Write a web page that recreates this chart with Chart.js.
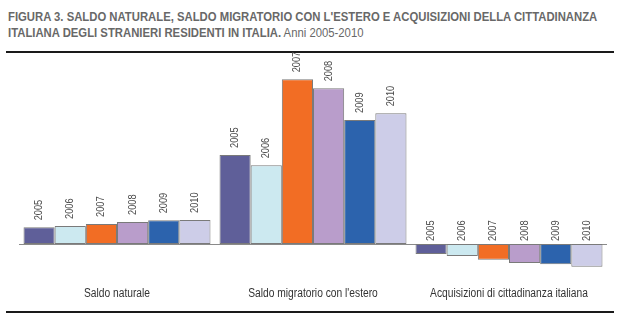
<!DOCTYPE html>
<html>
<head>
<meta charset="utf-8">
<script src="https://cdn.jsdelivr.net/npm/chart.js@4.4.0/dist/chart.umd.min.js"></script>
<style>
  body { margin: 0; background: #fff; width: 630px; height: 334px; overflow: hidden; position: relative; }
  .titolo { position: absolute; left: 8px; font-family: "Liberation Sans", Arial, sans-serif;
            font-size: 12px; line-height: 16px; color: #686868; white-space: nowrap; transform-origin: 0 0; }
  .titolo b { font-weight: bold; }
  .riga { position: absolute; left: 6px; width: 608px; height: 2px; background: #1a1a1a; }
  canvas { position: absolute; left: 0; top: 0; }
</style>
</head>
<body>
<div class="titolo" id="t1" style="top:9px"><b>FIGURA 3. SALDO NATURALE, SALDO MIGRATORIO CON L'ESTERO E ACQUISIZIONI DELLA CITTADINANZA</b></div>
<div class="titolo" id="t2" style="top:25px"><b>ITALIANA DEGLI STRANIERI RESIDENTI IN ITALIA.</b> Anni 2005-2010</div>
<div class="riga" style="top:51px"></div>
<div class="riga" style="top:311px"></div>
<canvas id="grafico" width="630" height="334"></canvas>

<script>
var categorie = ['Saldo naturale', "Saldo migratorio con l'estero", 'Acquisizioni di cittadinanza italiana'];
var anni = ['2005', '2006', '2007', '2008', '2009', '2010'];
// valori stimati dal grafico (unità)
var saldoNaturale = [50000, 54000, 60000, 66000, 71000, 72000];
var saldoMigratorio = [267000, 236000, 494000, 467000, 372000, 392000];
var acquisizioni = [-30000, -36000, -47000, -57000, -61000, -68000];
var colori = ['#5f5f99', '#cce9f0', '#f26d24', '#b99dcb', '#2c63ad', '#cdcde8'];

// titolo in stile "narrow": compressione orizzontale
var t1 = document.getElementById('t1');
var k = 589 / t1.scrollWidth;
t1.style.transform = 'scaleX(' + k + ')';
document.getElementById('t2').style.transform = 'scaleX(' + k + ')';

var datasets = [];
anni.forEach(function (anno, i) {
  datasets.push({
    label: anno,
    data: [saldoNaturale[i], saldoMigratorio[i], acquisizioni[i]],
    backgroundColor: colori[i],
    borderColor: '#7a7a7a',
    borderWidth: 1,
    borderSkipped: false
  });
});

var etichette = {
  id: 'etichette',
  beforeDatasetsDraw: function (chart) {
    var ctx = chart.ctx;
    var y0 = chart.scales.y.getPixelForValue(0);
    ctx.save();
    ctx.strokeStyle = '#8a8a8a';
    ctx.lineWidth = 1;
    ctx.beginPath();
    ctx.moveTo(chart.chartArea.left, Math.round(y0) + 0.5);
    ctx.lineTo(chart.chartArea.right, Math.round(y0) + 0.5);
    ctx.stroke();
    ctx.restore();
  },
  afterDatasetsDraw: function (chart) {
    var ctx = chart.ctx;
    var font = '"Liberation Sans", Arial, sans-serif';
    ctx.save();
    ctx.fillStyle = '#4a4a4a';
    ctx.font = '11px ' + font;
    chart.data.datasets.forEach(function (ds, i) {
      var meta = chart.getDatasetMeta(i);
      meta.data.forEach(function (el) {
        var fondo = el.y < el.base ? el.y - 7 : el.base - 3;
        ctx.save();
        ctx.translate(el.x, fondo);
        ctx.rotate(-Math.PI / 2);
        ctx.scale(0.84, 1);
        ctx.textAlign = 'left';
        ctx.textBaseline = 'middle';
        ctx.fillText(ds.label, 0, 0);
        ctx.restore();
      });
    });
    ctx.fillStyle = '#333';
    ctx.font = '12.5px ' + font;
    ctx.textAlign = 'center';
    ctx.textBaseline = 'alphabetic';
    categorie.forEach(function (c, j) {
      ctx.save();
      ctx.translate(chart.scales.x.getPixelForValue(j), 297);
      ctx.scale(0.82, 1);
      ctx.fillText(c, 0, 0);
      ctx.restore();
    });
    ctx.restore();
  }
};

var myChart = new Chart(document.getElementById('grafico'), {
  type: 'bar',
  data: { labels: categorie, datasets: datasets },
  options: {
    responsive: false,
    animation: false,
    devicePixelRatio: 1,
    layout: { padding: { left: 19, right: 23, top: 70, bottom: 54 } },
    datasets: { bar: { categoryPercentage: 0.954, barPercentage: 1 } },
    plugins: { legend: { display: false }, tooltip: { enabled: false } },
    scales: {
      x: { display: false },
      y: { display: false, min: -108000, max: 522000 }
    }
  },
  plugins: [etichette]
});
</script>
</body>
</html>
